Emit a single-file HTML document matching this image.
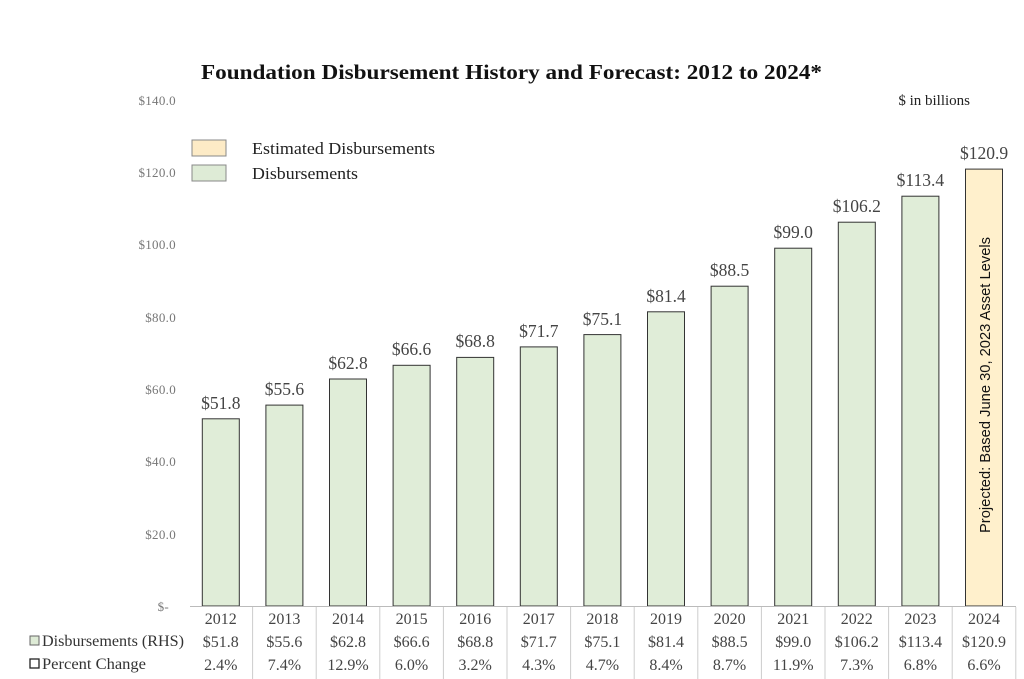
<!DOCTYPE html>
<html><head><meta charset="utf-8"><style>
body{margin:0;background:#fff}
svg{display:block}
.s{font-family:"Liberation Serif",serif}
</style></head><body>
<svg width="1024" height="679" viewBox="0 0 1024 679" xmlns="http://www.w3.org/2000/svg" class="s">
<text x="201" y="79" textLength="621" lengthAdjust="spacingAndGlyphs" font-size="21" font-weight="bold" fill="#111">Foundation Disbursement History and Forecast: 2012 to 2024*</text>
<text x="970" y="105" text-anchor="end" font-size="15" fill="#222">$ in billions</text>
<g font-size="13" fill="#777" text-anchor="end" letter-spacing="0.3">
<text x="176" y="105">$140.0</text>
<text x="176" y="177">$120.0</text>
<text x="176" y="249">$100.0</text>
<text x="176" y="322">$80.0</text>
<text x="176" y="394">$60.0</text>
<text x="176" y="466">$40.0</text>
<text x="176" y="539">$20.0</text>
<text x="169" y="611">$-</text>
</g>
<rect x="192" y="140" width="34" height="16" fill="#fdebc6" stroke="#888"/>
<rect x="192" y="165" width="34" height="16" fill="#deebd6" stroke="#888"/>
<text x="252" y="154" font-size="16.5" fill="#222" textLength="183" lengthAdjust="spacingAndGlyphs">Estimated Disbursements</text>
<text x="252" y="179" font-size="16.5" fill="#222" textLength="106" lengthAdjust="spacingAndGlyphs">Disbursements</text>
<g fill="#e0edd8" stroke="#333" stroke-width="1">
<rect x="202.3" y="418.8" width="37" height="187.2"/>
<rect x="265.9" y="405.1" width="37" height="200.9"/>
<rect x="329.5" y="379" width="37" height="227"/>
<rect x="393.1" y="365.3" width="37" height="240.7"/>
<rect x="456.7" y="357.4" width="37" height="248.6"/>
<rect x="520.3" y="346.9" width="37" height="259.1"/>
<rect x="583.9" y="334.6" width="37" height="271.4"/>
<rect x="647.5" y="311.8" width="37" height="294.2"/>
<rect x="711.1" y="286.2" width="37" height="319.8"/>
<rect x="774.7" y="248.2" width="37" height="357.8"/>
<rect x="838.3" y="222.2" width="37" height="383.8"/>
<rect x="901.9" y="196.2" width="37" height="409.8"/>
<rect x="965.5" y="169.1" width="37" height="436.9" fill="#fff0cc"/>
</g>
<g font-size="17.5" fill="#444" text-anchor="middle">
<text x="220.8" y="409">$51.8</text>
<text x="284.4" y="395">$55.6</text>
<text x="348" y="369">$62.8</text>
<text x="411.6" y="355">$66.6</text>
<text x="475.2" y="347">$68.8</text>
<text x="538.8" y="337">$71.7</text>
<text x="602.4" y="325">$75.1</text>
<text x="666" y="302">$81.4</text>
<text x="729.6" y="276">$88.5</text>
<text x="793.2" y="238">$99.0</text>
<text x="856.8" y="212">$106.2</text>
<text x="920.4" y="186">$113.4</text>
<text x="984" y="159">$120.9</text>
</g>
<text transform="translate(990,385) rotate(-90)" text-anchor="middle" font-family="Liberation Sans,sans-serif" font-size="14.5" fill="#111" textLength="296" lengthAdjust="spacingAndGlyphs">Projected: Based June 30, 2023 Asset Levels</text>
<line x1="190" y1="606.5" x2="1016" y2="606.5" stroke="#bbb"/>
<g stroke="#ccc">
<line x1="252.6" y1="607" x2="252.6" y2="679"/><line x1="316.2" y1="607" x2="316.2" y2="679"/><line x1="379.8" y1="607" x2="379.8" y2="679"/><line x1="443.4" y1="607" x2="443.4" y2="679"/><line x1="507" y1="607" x2="507" y2="679"/><line x1="570.6" y1="607" x2="570.6" y2="679"/><line x1="634.2" y1="607" x2="634.2" y2="679"/><line x1="697.8" y1="607" x2="697.8" y2="679"/><line x1="761.4" y1="607" x2="761.4" y2="679"/><line x1="825" y1="607" x2="825" y2="679"/><line x1="888.6" y1="607" x2="888.6" y2="679"/><line x1="952.2" y1="607" x2="952.2" y2="679"/><line x1="1015.8" y1="607" x2="1015.8" y2="679"/>
</g>
<rect x="30" y="636" width="9" height="9" fill="#deebd6" stroke="#666"/>
<rect x="30" y="659" width="9" height="9" fill="#fff" stroke="#222" stroke-width="1.3"/>
<text x="42" y="646" font-size="16" fill="#333" textLength="142" lengthAdjust="spacingAndGlyphs">Disbursements (RHS)</text>
<text x="42" y="669" font-size="16" fill="#333" textLength="104" lengthAdjust="spacingAndGlyphs">Percent Change</text>
<g font-size="16" fill="#444" text-anchor="middle">
<text x="220.8" y="624">2012</text><text x="284.4" y="624">2013</text><text x="348" y="624">2014</text><text x="411.6" y="624">2015</text><text x="475.2" y="624">2016</text><text x="538.8" y="624">2017</text><text x="602.4" y="624">2018</text><text x="666" y="624">2019</text><text x="729.6" y="624">2020</text><text x="793.2" y="624">2021</text><text x="856.8" y="624">2022</text><text x="920.4" y="624">2023</text><text x="984" y="624">2024</text>
<text x="220.8" y="647">$51.8</text><text x="284.4" y="647">$55.6</text><text x="348" y="647">$62.8</text><text x="411.6" y="647">$66.6</text><text x="475.2" y="647">$68.8</text><text x="538.8" y="647">$71.7</text><text x="602.4" y="647">$75.1</text><text x="666" y="647">$81.4</text><text x="729.6" y="647">$88.5</text><text x="793.2" y="647">$99.0</text><text x="856.8" y="647">$106.2</text><text x="920.4" y="647">$113.4</text><text x="984" y="647">$120.9</text>
<text x="220.8" y="670">2.4%</text><text x="284.4" y="670">7.4%</text><text x="348" y="670">12.9%</text><text x="411.6" y="670">6.0%</text><text x="475.2" y="670">3.2%</text><text x="538.8" y="670">4.3%</text><text x="602.4" y="670">4.7%</text><text x="666" y="670">8.4%</text><text x="729.6" y="670">8.7%</text><text x="793.2" y="670">11.9%</text><text x="856.8" y="670">7.3%</text><text x="920.4" y="670">6.8%</text><text x="984" y="670">6.6%</text>
</g>
</svg>
</body></html>
